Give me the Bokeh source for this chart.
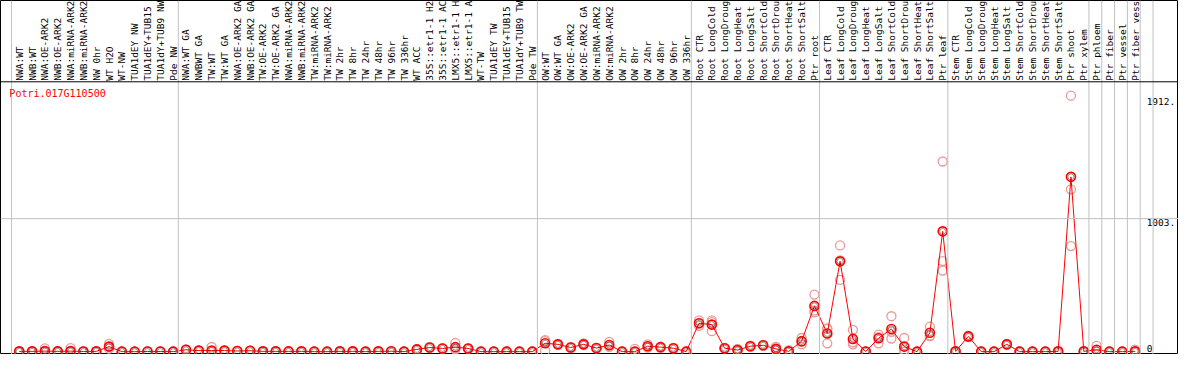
import math
from bokeh.plotting import figure
from bokeh.models import Range1d, Span, Label
from bokeh.core.properties import value
from bokeh.embed import file_html
from bokeh.resources import INLINE

gene_id = "Potri.017G110500"

categories = [
    "NWA:WT", "NWB:WT", "NWA:OE-ARK2", "NWB:OE-ARK2", "NWA:miRNA-ARK2", "NWB:miRNA-ARK2",
    "NW 0hr", "WT H2O", "WT-NW", "TUA1dEY NW", "TUA1dEY+TUB15", "TUA1dY+TUB9 NW", "Pde NW",
    "NWA:WT GA", "NWBWT GA", "TW:WT", "TW:WT GA", "NWA:OE-ARK2 GA", "NWB:OE-ARK2 GA",
    "TW:OE-ARK2", "TW:OE-ARK2 GA", "NWA:miRNA-ARK2", "NWB:miRNA-ARK2", "TW:miRNA-ARK2",
    "TW:miRNA-ARK2", "TW 2hr", "TW 8hr", "TW 24hr", "TW 48hr", "TW 96hr", "TW 336hr",
    "WT ACC", "35S::etr1-1 H2", "35S::etr1-1 AC", "LMX5::etr1-1 H", "LMX5::etr1-1 A",
    "WT-TW", "TUA1dEY TW", "TUA1dEY+TUB15", "TUA1dY+TUB9 TW", "Pde TW",
    "OW:WT", "OW:WT GA", "OW:OE-ARK2", "OW:OE-ARK2 GA", "OW:miRNA-ARK2", "OW:miRNA-ARK2",
    "OW 2hr", "OW 8hr", "OW 24hr", "OW 48hr", "OW 96hr", "OW 336hr",
    "Root CTR", "Root LongCold", "Root LongDroug", "Root LongHeat", "Root LongSalt",
    "Root ShortCold", "Root ShortDrou", "Root ShortHeat", "Root ShortSalt", "Ptr root",
    "Leaf CTR", "Leaf LongCold", "Leaf LongDroug", "Leaf LongHeat", "Leaf LongSalt",
    "Leaf ShortCold", "Leaf ShortDrou", "Leaf ShortHeat", "Leaf ShortSalt", "Ptr leaf",
    "Stem CTR", "Stem LongCold", "Stem LongDroug", "Stem LongHeat", "Stem LongSalt",
    "Stem ShortCold", "Stem ShortDrou", "Stem ShortHeat", "Stem ShortSalt", "Ptr shoot",
    "Ptr xylem", "Ptr phloem", "Ptr fiber", "Ptr vessel", "Ptr fiber vess",
]

mean_values = [
    2, 2, 4, 2, 4, 1, 2, 38, 0, 0, 1, 1, 0,
    14, 8, 9, 8, 5, 7, 2, 2, 2, 2, 0, 0, 2, 2, 0, 2, 3, 0, 17, 31, 24, 34, 24, 0, 0, 0, 0, 0,
    63, 55, 31, 55, 27, 50, 0, 0, 41, 34, 26, 0,
    214, 204, 26, 12, 41, 48, 21, 2, 79, 345,
    137, 681, 96, 1, 101, 171, 38, 0, 142, 907,
    2, 115, 0, 0, 55, 0, 0, 0, 2, 1318, 2,
    14, 0, 0, 2,
]

replicate_values = [
    [2, 2, 3], [2, 1, 3], [25, 1, 2], [2, 3, 1], [27, 1, 2], [1, 1, 2], [2, 3, 1],
    [58, 38, 22], [0, 0, 1], [0, 0, 0], [1, 1, 2], [1, 2, 1], [0, 0, 1],
    [14, 12, 16], [8, 7, 9], [35, 2, 3], [8, 9, 7], [5, 6, 4], [7, 8, 6], [2, 2, 3],
    [2, 3, 1], [2, 2, 3], [2, 3, 2], [0, 0, 1], [0, 1, 0], [2, 3, 2], [2, 2, 3],
    [0, 1, 0], [2, 2, 3], [3, 4, 2], [0, 0, 1], [17, 18, 16], [31, 33, 29], [24, 26, 22],
    [65, 20, 18], [24, 25, 23], [0, 0, 1], [0, 1, 0], [0, 0, 1], [0, 1, 0], [0, 0, 1],
    [87, 80, 7], [58, 55, 52], [35, 28, 30], [62, 55, 50], [27, 28, 25], [74, 40, 36],
    [0, 1, 0], [21, 0, 0], [55, 41, 30], [38, 34, 30], [28, 26, 24], [0, 0, 1],
    [236, 214, 195], [236, 222, 154], [26, 24, 28], [20, 10, 6], [45, 40, 38],
    [50, 48, 46], [35, 18, 10], [12, 2, 0], [103, 75, 55], [430, 296, 310],
    [171, 175, 63], [801, 688, 541], [164, 55, 70], [1, 0, 2], [128, 63, 110],
    [267, 99, 150], [103, 14, 0], [0, 1, 0], [188, 118, 120], [1434, 683, 611],
    [2, 3, 1], [120, 110, 115], [0, 1, 0], [0, 0, 1], [55, 58, 52], [0, 1, 0],
    [0, 0, 1], [0, 0, 1], [2, 3, 1], [1930, 1224, 796], [2, 3, 1],
    [43, 2, 1], [0, 0, 1], [0, 0, 1], [2, 15, 0],
]

group_sizes = [13, 28, 12, 10, 10, 11, 1, 1, 1, 1, 1]

ytick_values = [0, 1003, 1912]
ytick_labels = ["0", "1003.", "1912."]

# ---------------------------------------------------------------- figure
W, H = 1178, 354
p = figure(
    width=W, height=H, output_backend="svg", toolbar_location=None,
    x_range=Range1d(-1.4615, 90.385), y_range=Range1d(-21.6, 2648.1),
    x_axis_location=None, y_axis_location=None, min_border=0,
)
p.grid.visible = False
p.outline_line_color = "black"
p.outline_line_width = 1
p.background_fill_color = "white"
p.border_fill_color = "white"

idx = list(range(len(categories)))

# group separators (vertical gray lines)
pos = -0.6
p.add_layout(Span(location=pos, dimension="height", line_color="#c0c0c0", line_width=1))
for g in group_sizes:
    pos += g
    p.add_layout(Span(location=pos, dimension="height", line_color="#c0c0c0", line_width=1))

# horizontal gridlines for inner ticks
for t in ytick_values[1:-1]:
    p.add_layout(Span(location=t, dimension="width", line_color="#c0c0c0", line_width=1))

# separator between label band and data area
p.add_layout(Span(location=2035, dimension="width", line_color="black", line_width=1))

# rotated category labels
p.text(x=idx, y=[2043] * len(idx), text=categories, angle=math.pi / 2,
       text_align="left", text_baseline="middle",
       text_font=value("DejaVu Sans Mono"), text_font_size="9.5px", text_color="black")

# replicates
rx, ry = [], []
for i, reps in enumerate(replicate_values):
    for r in reps:
        rx.append(i)
        ry.append(r)
p.scatter(rx, ry, marker="circle", size=9, fill_color=None,
          line_color="#e89a9a", line_width=1.3)

# mean line and markers
p.line(idx, mean_values, line_color="red", line_width=1)
p.scatter(idx, mean_values, marker="circle", size=9, fill_color=None,
          line_color="red", line_width=1.6)
p.scatter(idx, mean_values, marker="circle", size=6, fill_color=None,
          line_color="black", line_width=0.8, line_alpha=0.5)

# gene id
p.add_layout(Label(x=-0.77, y=1948, text=gene_id, text_color="red",
                   text_font="DejaVu Sans Mono",
                   text_font_size="10px", text_baseline="middle"))

# value labels at the right
nz_v = [v for v in ytick_values if v != 0]
nz_l = [l for v, l in zip(ytick_values, ytick_labels) if v != 0]
p.text(x=[87.9] * len(nz_v), y=nz_v, text=nz_l, text_align="left", text_baseline="top",
       text_font=value("DejaVu Sans Mono"), text_font_size="9.5px", text_color="black")
z_v = [v for v in ytick_values if v == 0]
z_l = [l for v, l in zip(ytick_values, ytick_labels) if v == 0]
p.text(x=[87.9] * len(z_v), y=z_v, text=z_l, text_align="left", text_baseline="bottom",
       text_font=value("DejaVu Sans Mono"), text_font_size="9.5px", text_color="black")

open("out.html", "w").write(file_html(p, INLINE))
